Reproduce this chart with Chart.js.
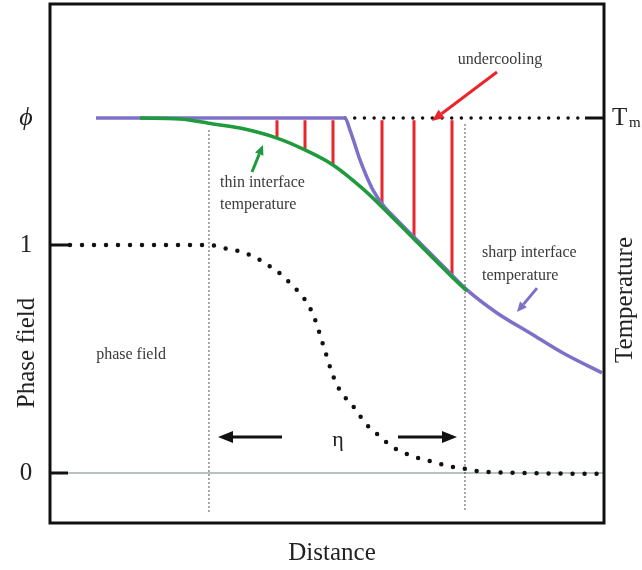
<!DOCTYPE html>
<html>
<head>
<meta charset="utf-8">
<script src="https://cdn.jsdelivr.net/npm/chart.js@4"></script>
<style>
  body { margin: 0; background: #fff; }
  #wrap { width: 642px; height: 570px; }
</style>
</head>
<body>
<div id="wrap"><canvas id="chart"></canvas></div>
<script>
// distance in arbitrary units (0..554), vertical in phase field units (0 = solid, 1 = liquid)
const tmLevel = 1.557;

const thinX = [90, 130, 163, 190, 227, 255, 283, 313, 332, 364, 402, 417];
const thinY = [1.557, 1.553, 1.531, 1.513, 1.469, 1.417, 1.351, 1.246, 1.167, 1.026, 0.860, 0.798];

const sharpX = [46, 295, 300, 305, 310, 316, 323, 333, 347, 363, 380, 397, 417, 447, 480, 513, 552];
const sharpY = [1.557, 1.557, 1.504, 1.439, 1.373, 1.307, 1.241, 1.175, 1.110, 1.039, 0.965, 0.890, 0.803, 0.702, 0.614, 0.526, 0.439];

const phaseX = [20, 160, 173, 185, 197, 208, 218, 228, 237, 245, 253, 260, 266, 271, 276, 281, 287, 294, 303, 310, 318, 327, 336, 346, 357, 368, 379, 391, 403, 415, 427, 439, 470, 554];
const phaseY = [1, 1, 0.987, 0.978, 0.961, 0.939, 0.912, 0.882, 0.846, 0.811, 0.772, 0.724, 0.662, 0.592, 0.522, 0.452, 0.386, 0.338, 0.294, 0.25, 0.206, 0.171, 0.136, 0.105, 0.083, 0.066, 0.053, 0.039, 0.026, 0.018, 0.009, 0.004, 0, -0.004];

// undercooling: vertical gaps between Tm and the thin interface temperature
const undercoolX = [227, 255, 283, 332, 364, 402];
const undercoolY = [1.469, 1.417, 1.351, 1.167, 1.026, 0.860];

const interfaceX = [159, 415];   // edges of the diffuse interface (width eta)
const yTicks = [0, 1, tmLevel];
const yTickLabels = ['0', '1', '\u03D5'];

const purple = '#7d70c8';
const green = '#1f9a3c';
const red = '#e8262b';
const serif = "'Liberation Serif', 'DejaVu Serif', serif";

function pts(xs, ys) {
    return xs.map((x, i) => ({ x: x, y: ys[i] }));
}

const redPts = [];
undercoolX.forEach((x, i) => {
    redPts.push({ x: x, y: tmLevel - 0.01 }, { x: x, y: undercoolY[i] }, { x: x, y: null });
});

const vertPts = [];
interfaceX.forEach(x => {
    vertPts.push({ x: x, y: x < 300 ? 1.50 : 1.526 }, { x: x, y: -0.171 }, { x: x, y: null });
});

function arrow(ctx, x1, y1, x2, y2, color, w, len, half) {
    const a = Math.atan2(y2 - y1, x2 - x1);
    const bx = x2 - len * Math.cos(a), by = y2 - len * Math.sin(a);
    ctx.save();
    ctx.strokeStyle = color;
    ctx.fillStyle = color;
    ctx.lineWidth = w;
    ctx.beginPath();
    ctx.moveTo(x1, y1);
    ctx.lineTo(bx, by);
    ctx.stroke();
    ctx.beginPath();
    ctx.moveTo(x2, y2);
    ctx.lineTo(bx + half * Math.sin(a), by - half * Math.cos(a));
    ctx.lineTo(bx - half * Math.sin(a), by + half * Math.cos(a));
    ctx.closePath();
    ctx.fill();
    ctx.restore();
}

const decor = {
    id: 'decor',
    afterDatasetsDraw(chart) {
        const ctx = chart.ctx;
        const sx = chart.scales.x, sy = chart.scales.y;
        const X = v => sx.getPixelForValue(v), Y = v => sy.getPixelForValue(v);

        // short solid ticks
        ctx.save();
        ctx.strokeStyle = '#111';
        ctx.lineWidth = 3;
        [[0, 18, 0], [0, 20, 1], [535, 554, tmLevel]].forEach(t => {
            ctx.beginPath();
            ctx.moveTo(X(t[0]), Y(t[2]));
            ctx.lineTo(X(t[1]), Y(t[2]));
            ctx.stroke();
        });
        ctx.restore();

        arrow(ctx, X(232), Y(0.158), X(168), Y(0.158), '#111', 3, 15, 6);
        arrow(ctx, X(348), Y(0.158), X(407), Y(0.158), '#111', 3, 15, 6);
        arrow(ctx, X(447), Y(1.759), X(382), Y(1.544), red, 3, 12, 5);
        arrow(ctx, X(202), Y(1.320), X(213), Y(1.439), green, 3, 10, 4.5);
        arrow(ctx, X(487), Y(0.811), X(467), Y(0.706), purple, 3, 10, 4.5);

        ctx.save();
        ctx.fillStyle = '#3a3a3a';
        ctx.font = '16px ' + serif;
        ctx.textBaseline = 'middle';
        ctx.textAlign = 'center';
        ctx.fillText('undercooling', X(450), Y(1.811));
        ctx.fillText('phase field', X(81), Y(0.518));
        ctx.textAlign = 'left';
        ctx.fillText('thin interface', X(170), Y(1.272));
        ctx.fillText('temperature', X(170), Y(1.175));
        ctx.fillText('sharp interface', X(432), Y(0.965));
        ctx.fillText('temperature', X(432), Y(0.864));
        ctx.fillStyle = '#222';
        ctx.font = '22px ' + serif;
        ctx.textAlign = 'center';
        ctx.fillText('\u03B7', X(288), Y(0.145));
        ctx.restore();
    },
    afterDraw(chart) {
        const ctx = chart.ctx;
        const a = chart.chartArea;
        const sy = chart.scales.y;
        ctx.save();
        ctx.strokeStyle = '#111';
        ctx.lineWidth = 3;
        ctx.strokeRect(a.left, a.top, a.right - a.left, a.bottom - a.top);

        ctx.fillStyle = '#222';
        ctx.textBaseline = 'middle';
        ctx.textAlign = 'center';
        yTicks.forEach((v, i) => {
            ctx.font = (i === 2 ? 'italic 26px ' : '25px ') + serif;
            ctx.fillText(yTickLabels[i], a.left - 24, sy.getPixelForValue(v));
        });
        ctx.font = '25px ' + serif;
        ctx.textAlign = 'left';
        ctx.fillText('T', a.right + 8, sy.getPixelForValue(tmLevel));
        ctx.font = '15px ' + serif;
        ctx.fillText('m', a.right + 25, sy.getPixelForValue(tmLevel) + 5);

        ctx.font = '25px ' + serif;
        ctx.textAlign = 'center';
        ctx.fillText('Distance', (a.left + a.right) / 2 + 5, a.bottom + 30);

        ctx.translate(27, 353);
        ctx.rotate(-Math.PI / 2);
        ctx.fillText('Phase field', 0, 0);
        ctx.setTransform(1, 0, 0, 1, 0, 0);
        ctx.translate(625, 300);
        ctx.rotate(-Math.PI / 2);
        ctx.fillText('Temperature', 0, 0);
        ctx.restore();
    }
};

new Chart(document.getElementById('chart'), {
    type: 'scatter',
    data: {
        datasets: [
            {
                label: 'thin interface temperature',
                data: pts(thinX, thinY),
                showLine: true,
                borderColor: green,
                borderWidth: 3.5,
                cubicInterpolationMode: 'monotone',
                pointRadius: 0,
                order: 1
            },
            {
                label: 'sharp interface temperature',
                data: pts(sharpX, sharpY),
                showLine: true,
                borderColor: purple,
                borderWidth: 3.5,
                cubicInterpolationMode: 'monotone',
                pointRadius: 0,
                order: 2
            },
            {
                label: 'undercooling',
                data: redPts,
                showLine: true,
                spanGaps: false,
                borderColor: red,
                borderWidth: 3,
                pointRadius: 0,
                order: 3
            },
            {
                label: 'Tm',
                data: [{ x: 295, y: tmLevel }, { x: 535, y: tmLevel }],
                showLine: true,
                borderColor: '#111',
                borderWidth: 3.5,
                borderDash: [0, 9.7],
                borderCapStyle: 'round',
                pointRadius: 0,
                order: 4
            },
            {
                label: 'phase field',
                data: pts(phaseX, phaseY),
                showLine: true,
                borderColor: '#111',
                borderWidth: 4.5,
                borderDash: [0, 12],
                borderCapStyle: 'round',
                cubicInterpolationMode: 'monotone',
                pointRadius: 0,
                order: 5
            },
            {
                label: 'interface edges',
                data: vertPts,
                showLine: true,
                spanGaps: false,
                borderColor: '#333',
                borderWidth: 1.6,
                borderDash: [0, 4],
                borderCapStyle: 'round',
                pointRadius: 0,
                order: 6
            },
            {
                label: 'solid',
                data: [{ x: 18, y: 0 }, { x: 554, y: 0 }],
                showLine: true,
                borderColor: '#b7c2c2',
                borderWidth: 2.2,
                pointRadius: 0,
                order: 7
            }
        ]
    },
    options: {
        responsive: true,
        maintainAspectRatio: false,
        animation: false,
        layout: {
            padding: { left: 50, top: 4, right: 38, bottom: 47 }
        },
        scales: {
            x: { type: 'linear', min: 0, max: 554, display: false },
            y: { type: 'linear', min: -0.2193, max: 2.057, display: false }
        },
        plugins: {
            legend: { display: false },
            tooltip: { enabled: false }
        }
    },
    plugins: [decor]
});
</script>
</body>
</html>
